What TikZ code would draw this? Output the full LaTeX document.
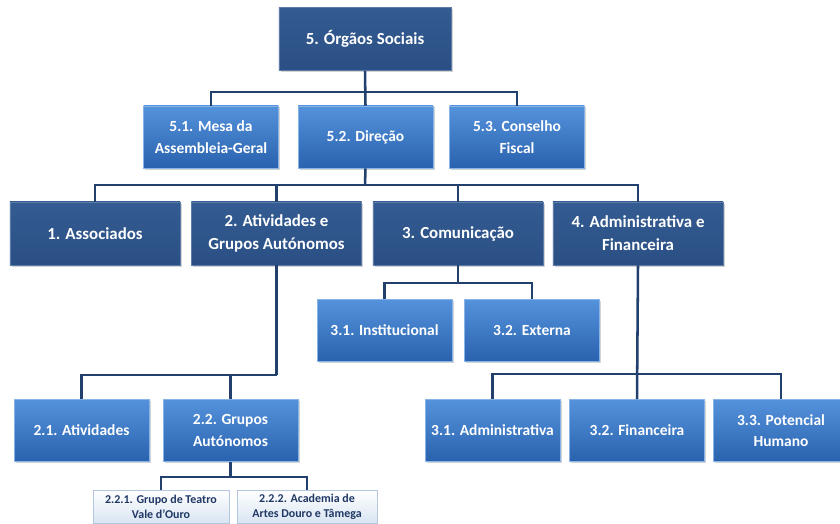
\documentclass[tikz,border=0pt]{standalone}
\usepackage{fontspec}
\setmainfont{Carlito}
\usepackage{xcolor}
\usetikzlibrary{positioning,calc,shadows}

\definecolor{navy}{HTML}{2A4F84}
\definecolor{navytop}{HTML}{345C92}
\definecolor{bluetop}{HTML}{5592DC}
\definecolor{bluebot}{HTML}{2962AE}
\definecolor{palebot}{HTML}{D9E5F3}
\definecolor{paleline}{HTML}{B5C7DE}
\definecolor{linkcol}{HTML}{21406E}
\definecolor{paletext}{HTML}{1F3864}

\begin{document}
\begin{tikzpicture}[
        x=0.025cm, y=-0.025cm,
        every node/.style={rectangle, align=center, inner sep=2pt, font=\bfseries},
        darkbox/.style={top color=navytop, bottom color=navy, draw=navytop!80!white, line width=0.4pt,
            text=white, minimum width=4.25cm, minimum height=1.58cm,
            font=\bfseries\fontsize{12}{16.5}\selectfont,
            drop shadow={opacity=0.35, shadow xshift=1.2pt, shadow yshift=-1.2pt}},
        midbox/.style={top color=bluetop, bottom color=bluebot, draw=bluetop!70!white, line width=0.4pt,
            text=white, minimum width=3.37cm, minimum height=1.56cm,
            font=\bfseries\fontsize{11}{15.2}\selectfont,
            drop shadow={opacity=0.35, shadow xshift=1.2pt, shadow yshift=-1.2pt}},
        palebox/.style={top color=white, bottom color=palebot, draw=paleline, line width=0.4pt,
            text=paletext, minimum height=0.83cm,
            font=\bfseries\fontsize{8.5}{10.6}\selectfont,
            drop shadow={opacity=0.25, shadow xshift=1pt, shadow yshift=-1pt}},
        link/.style={draw=linkcol, line width=1.8pt}
    ]
    \useasboundingbox (0,0) rectangle (840,524);
    \clip (0,0) rectangle (840,524);

    % governing bodies
    \node[darkbox, minimum width=4.3cm] (orgaos) at (365,39) {5. Órgãos Sociais};
    \node[midbox] (mesa) at (211,137) {5.1. Mesa da\\Assembleia-Geral};
    \node[midbox] (direcao) at (365.5,137) {5.2. Direção};
    \node[midbox] (conselho) at (517,137) {5.3. Conselho\\Fiscal};

    % main areas
    \node[darkbox] (associados) at (95,233.5) {1. Associados};
    \node[darkbox] (atividades) at (276.5,233.5) {2. Atividades e\\Grupos Autónomos};
    \node[darkbox] (comunicacao) at (458,233.5) {3. Comunicação};
    \node[darkbox] (adminfin) at (638,233.5) {4. Administrativa e\\Financeira};

    % communication
    \node[midbox] (institucional) at (384.5,330.5) {3.1. Institucional};
    \node[midbox] (externa) at (532,330.5) {3.2. Externa};

    % activities
    \node[midbox] (ativ) at (81.5,430.5) {2.1. Atividades};
    \node[midbox] (grupos) at (230.5,430.5) {2.2. Grupos\\Autónomos};
    \node[palebox, minimum width=3.4cm] (teatro) at (161,506.5) {2.2.1. Grupo de Teatro\\Vale d’Ouro};
    \node[palebox, minimum width=3.5cm] (academia) at (307,506.5) {2.2.2. Academia de\\Artes Douro e Tâmega};

    % administration and finance
    \node[midbox] (administrativa) at (492.5,430.5) {3.1. Administrativa};
    \node[midbox] (financeira) at (637,430.5) {3.2. Financeira};
    \node[midbox] (humano) at (781,430.5) {3.3. Potencial\\Humano};

    % branch points
    \coordinate (b0) at (365,92);
    \coordinate (b1) at (365,185);
    \coordinate (b3) at (458,283);
    \coordinate (b2) at (276.5,375);
    \coordinate (b22) at (230.5,477);
    \coordinate (b4) at (637,374);

    % connectors
    \draw[link] (orgaos.south) -- (direcao.north);
    \draw[link] (mesa.north) |- (b0) -| (conselho.north);
    \draw[link] (direcao.south) -- (b1);
    \draw[link] (associados.north) |- (b1) -| (adminfin.north);
    \draw[link] (atividades.north) -- (atividades.north |- b1);
    \draw[link] (comunicacao.north) -- (comunicacao.north |- b1);
    \draw[link] (comunicacao.south) -- (b3);
    \draw[link] (institucional.north) |- (b3) -| (externa.north);
    \draw[link] (atividades.south) -- (b2);
    \draw[link] (ativ.north) |- (b2);
    \draw[link] (grupos.north) -- (grupos.north |- b2);
    \draw[link] (grupos.south) -- (b22);
    \draw[link] (teatro.north) |- (b22) -| (academia.north);
    \draw[link] (adminfin.south) -- (financeira.north);
    \draw[link] (administrativa.north) |- (b4) -| (humano.north);
\end{tikzpicture}
\end{document}
